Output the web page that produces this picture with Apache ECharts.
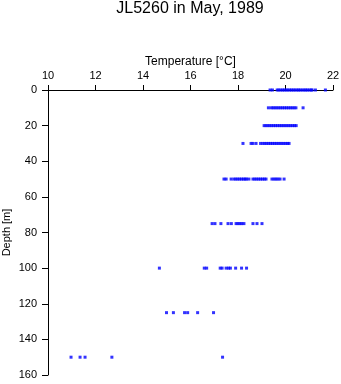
<!DOCTYPE html>
<html>
<head>
<meta charset="utf-8">
<script src="https://cdn.jsdelivr.net/npm/echarts@6/dist/echarts.min.js"></script>
<style>html,body{margin:0;padding:0;background:#fff}#c{width:341px;height:384px}</style>
</head>
<body>
<div id="c"></div>
<script>
var titleText = "JL5260 in May, 1989";
var xName = "Temperature [°C]";
var yName = "Depth [m]";
var depths = [0, 10, 20, 30, 50, 75, 100, 125, 150];
var temps0 = [19.35, 19.45, 19.65, 19.72, 19.8, 19.88, 19.95, 20.03, 20.1, 20.18, 20.25, 20.33, 20.4, 20.48, 20.55, 20.62, 20.7, 20.78, 20.85, 20.92, 21.0, 21.08, 21.12, 21.26, 21.68];
var temps10 = [19.28, 19.4, 19.48, 19.56, 19.64, 19.72, 19.8, 19.88, 19.96, 20.04, 20.12, 20.2, 20.28, 20.36, 20.44, 20.74];
var temps20 = [19.1, 19.18, 19.26, 19.34, 19.42, 19.5, 19.58, 19.66, 19.74, 19.82, 19.9, 19.98, 20.06, 20.14, 20.22, 20.3, 20.38, 20.45];
var temps30 = [18.21, 18.55, 18.63, 18.76, 18.95, 19.05, 19.13, 19.21, 19.29, 19.37, 19.45, 19.53, 19.61, 19.69, 19.77, 19.85, 19.93, 20.01, 20.09, 20.15];
var temps50 = [17.41, 17.5, 17.71, 17.83, 17.91, 17.99, 18.07, 18.15, 18.23, 18.3, 18.36, 18.46, 18.63, 18.71, 18.79, 18.87, 18.95, 19.03, 19.11, 19.18, 19.43, 19.52, 19.6, 19.68, 19.77, 19.94];
var temps75 = [16.91, 17.03, 17.28, 17.58, 17.72, 17.92, 18.0, 18.08, 18.16, 18.25, 18.63, 18.8, 19.01];
var temps100 = [14.69, 16.58, 16.68, 17.25, 17.33, 17.5, 17.6, 17.68, 17.9, 18.15, 18.36];
var temps125 = [14.99, 15.28, 15.75, 15.88, 16.3, 16.97];
var temps150 = [10.97, 11.35, 11.56, 12.69, 17.35];
var xTicks = [10, 12, 14, 16, 18, 20, 22];
var yTicks = [0, 20, 40, 60, 80, 100, 120, 140, 160];

var allTemps = [temps0, temps10, temps20, temps30, temps50, temps75, temps100, temps125, temps150];
var points = [];
for (var i = 0; i < depths.length; i++) {
  for (var j = 0; j < allTemps[i].length; j++) points.push([allTemps[i][j], depths[i]]);
}
var font = "Liberation Sans, Arial, Helvetica, sans-serif";
var chart = echarts.init(document.getElementById('c'), null, {renderer: 'canvas'});
chart.setOption({
  animation: false,
  backgroundColor: '#fff',
  title: {text: titleText, left: 190, textAlign: 'center', top: 1, padding: 0,
    textStyle: {fontFamily: font, fontSize: 16, fontWeight: 'normal', color: '#000'}},
  grid: {left: 48, top: 90, width: 285, height: 285, containLabel: false, outerBoundsMode: 'none'},
  xAxis: {
    type: 'value', position: 'top', min: xTicks[0], max: xTicks[xTicks.length - 1], interval: 2,
    name: xName, nameLocation: 'middle', nameGap: 22, nameMoveOverlap: false,
    nameTextStyle: {fontFamily: font, fontSize: 12, color: '#000'},
    axisLine: {show: true, onZero: false, lineStyle: {color: '#000', width: 1}},
    axisTick: {show: true, inside: false, length: 5, lineStyle: {color: '#000'}},
    axisLabel: {fontFamily: font, fontSize: 11, color: '#000', margin: 9},
    splitLine: {show: false}
  },
  yAxis: {
    type: 'value', inverse: true, min: yTicks[0], max: yTicks[yTicks.length - 1], interval: 20,
    name: yName, nameLocation: 'middle', nameGap: 36, nameRotate: 90, nameMoveOverlap: false,
    nameTextStyle: {fontFamily: font, fontSize: 11, color: '#000'},
    axisLine: {show: true, onZero: false, lineStyle: {color: '#000', width: 1}},
    axisTick: {show: true, inside: false, length: 6, lineStyle: {color: '#000'}},
    axisLabel: {fontFamily: font, fontSize: 11, color: '#000', margin: 11},
    splitLine: {show: false}
  },
  series: [{
    type: 'scatter', data: points, symbol: 'rect', symbolSize: [3, 3],
    itemStyle: {color: '#0000ff'}, silent: true
  }]
});
</script>
</body>
</html>
